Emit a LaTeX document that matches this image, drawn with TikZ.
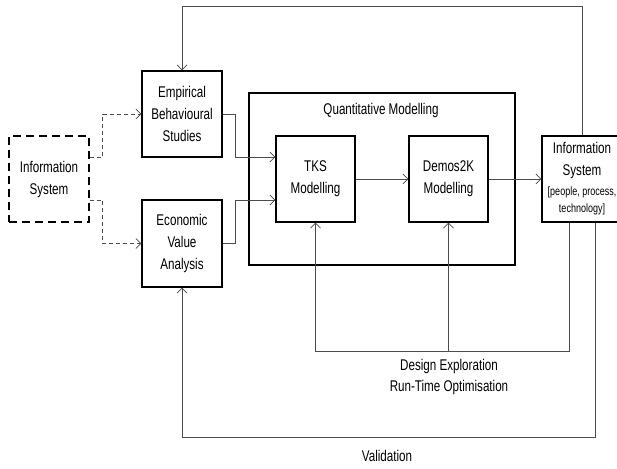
\documentclass[tikz,border=0pt]{standalone}
\usepackage{fontspec}
\setmainfont{Liberation Sans}[FakeStretch=0.75]
\usetikzlibrary{arrows.meta}
\begin{document}
\begin{tikzpicture}[x=1pt, y=-1pt,
  box/.style={draw, line width=1.2pt, minimum width=80pt, minimum height=86pt,
    inner sep=1pt, align=center, font=\fontsize{15.5}{22}\selectfont},
  dashbox/.style={box, line width=1.5pt, dash pattern=on 8pt off 5pt},
  link/.style={draw=black!70, line width=0.7pt, -{Straight Barb[length=5pt,width=10pt]}},
  dashlink/.style={link, dash pattern=on 4pt off 3pt},
  lbl/.style={align=center, font=\fontsize{15.5}{21}\selectfont}]
  %\draw[help lines] (0,0) grid[step=50] (617,468);
  \useasboundingbox (0,0) rectangle (617,468);
  \fill[white] (0,0) rectangle (617,468);

  \node[dashbox] (infsys) at (49,179) {Information\\System};
  \node[box] (emp) at (182,114) {Empirical\\Behavioural\\Studies};
  \node[box, minimum height=87pt] (eva) at (182,243.5) {Economic\\Value\\Analysis};
  \node[draw, line width=1.2pt, minimum width=266pt, minimum height=172pt] (quant) at (382,179) {};
  \node[lbl] (qtitle) at (381,110) {Quantitative Modelling};
  \node[box, minimum width=79pt] (tks) at (315.5,179) {TKS\\Modelling};
  \node[box, minimum width=79pt] (demos) at (448.5,179) {Demos2K\\Modelling};
  \node[box] (real) at (582,179) {Information\\System\\[-2pt]%
    {\fontsize{12}{14}\selectfont [people, process,}\\[-5pt]%
    {\fontsize{12}{14}\selectfont technology]}};

  % inputs
  \draw[dashlink] ([yshift=22pt]infsys.east) -- ++(13,0) |- (emp.west);
  \draw[dashlink] ([yshift=-21pt]infsys.east) -- ++(13,0) |- (eva.west);
  \draw[link] (emp.east) -- ++(13,0) |- ([yshift=22pt]tks.west);
  \draw[link] (eva.east) -- ++(13,0) |- ([yshift=-21pt]tks.west);
  \draw[link] (tks) -- (demos);
  \draw[link] (demos) -- (real);

  % feedback loops
  \draw[link] (real.north) -- ++(0,-129) -| (emp.north);
  \draw[link] ([xshift=-13pt]real.south) -- ++(0,129) coordinate (dex) -| (tks.south);
  \draw[link] (dex -| demos.south) -- (demos.south);
  \draw[link] ([xshift=13pt]real.south) -- ++(0,215) -| (eva.south);
  \node[lbl] (dexlbl) at (449,377) {Design Exploration\\Run-Time Optimisation};
  \node[lbl] (vallbl) at (387,456) {Validation};
\end{tikzpicture}
\end{document}
